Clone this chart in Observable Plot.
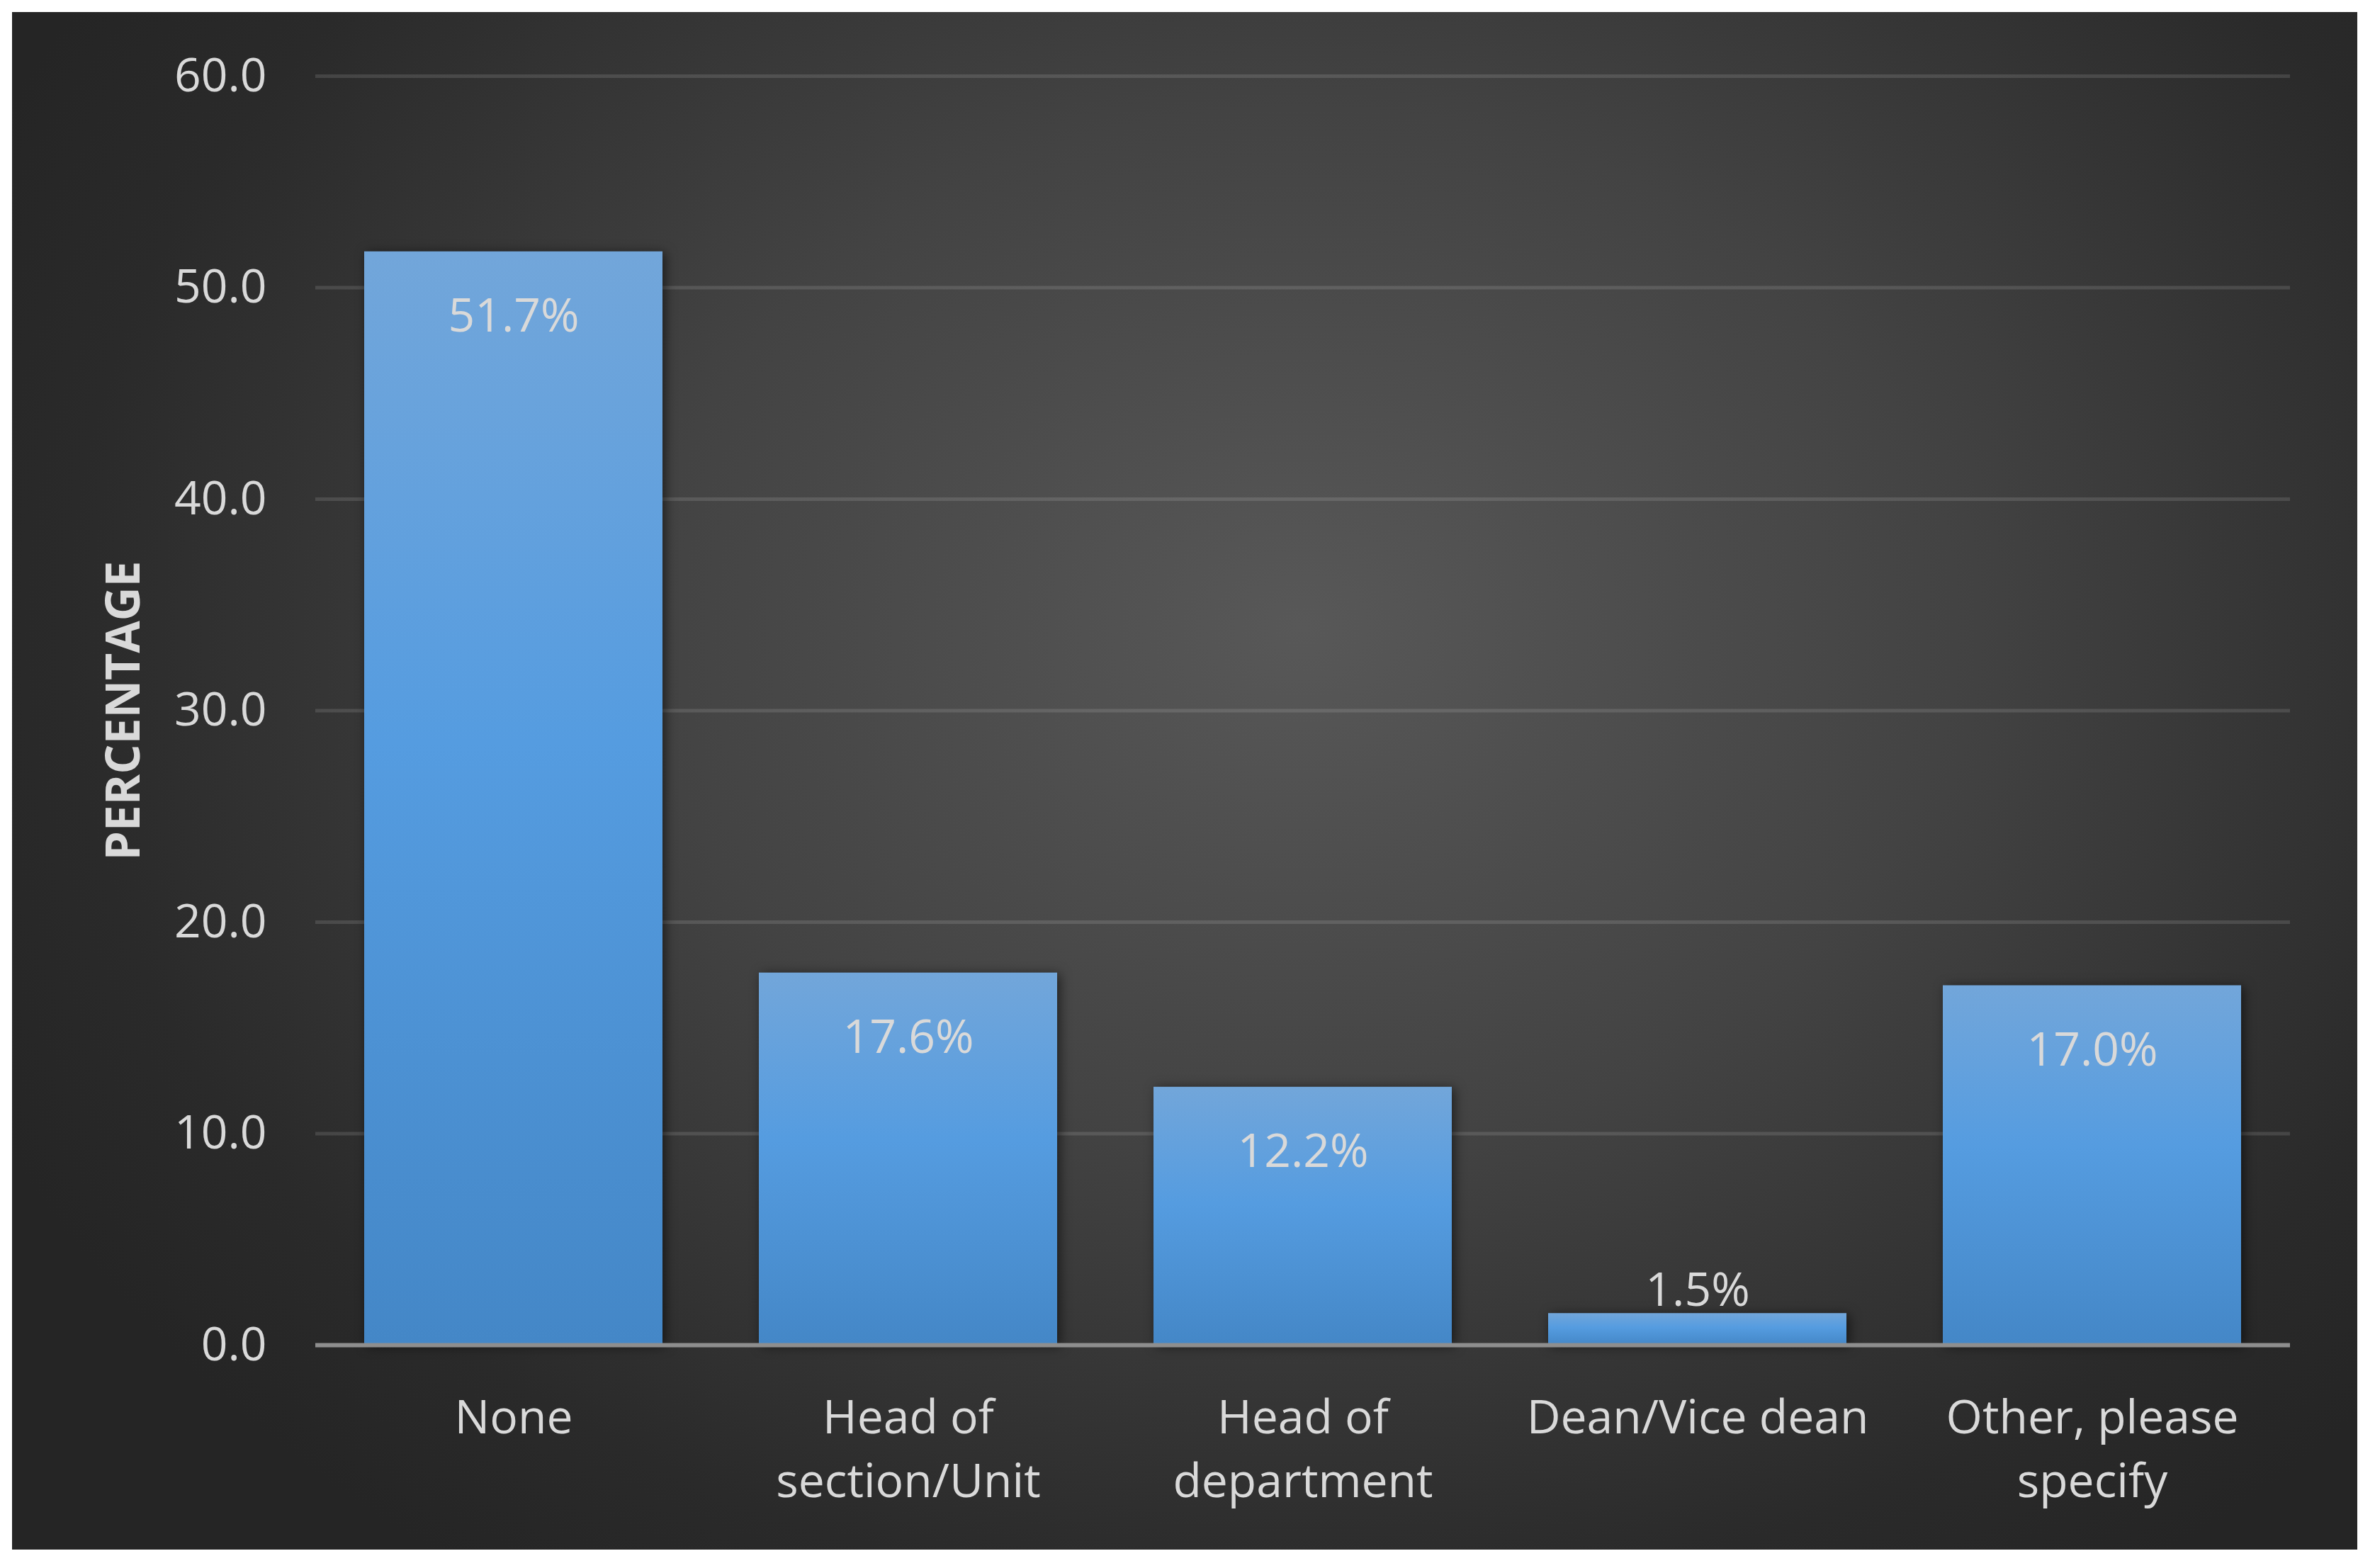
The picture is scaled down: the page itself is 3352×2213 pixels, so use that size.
<!DOCTYPE html>
<html>
<head>
<meta charset="utf-8">
<script src="https://cdn.jsdelivr.net/npm/d3@7"></script>
<script src="https://cdn.jsdelivr.net/npm/@observablehq/plot@0.6"></script>
<style>
  html, body { margin: 0; padding: 0; background: #ffffff; }
  #wrap { position: relative; width: 3352px; height: 2213px; overflow: hidden; background: #ffffff; }
  #bg { position: absolute; left: 17px; top: 17px; width: 3310px; height: 2170px;
        background: radial-gradient(ellipse 62% 75% at 55% 40%, #585858 0%, #434343 45%, #2a2a2a 85%, #252525 100%); }
  #chart { position: absolute; left: 0; top: 0; }
</style>
</head>
<body>
<div id="wrap"><div id="bg"></div><div id="chart"></div></div>
<script>
const categories = ["None", "Head of section/Unit", "Head of department", "Dean/Vice dean", "Other, please specify"];
const tickLabels = ["None", "Head of\nsection/Unit", "Head of\ndepartment", "Dean/Vice dean", "Other, please\nspecify"];
const values = [51.7, 17.6, 12.2, 1.5, 17.0];
const yTicks = [0, 10, 20, 30, 40, 50, 60];
const yTitle = "PERCENTAGE";

const data = categories.map((c, i) => ({category: c, value: values[i]}));
const labelMap = new Map(categories.map((c, i) => [c, tickLabels[i]]));
const textColor = "#d9d9d9";

const chart = Plot.plot({
  width: 3352,
  height: 2213,
  marginLeft: 445,
  marginRight: 120,
  marginTop: 107,
  marginBottom: 315,
  style: {background: "transparent", fontFamily: "'Open Sans', sans-serif", color: textColor, overflow: "visible"},
  x: {domain: categories, paddingInner: 0.245, paddingOuter: 0.12, label: null},
  y: {domain: [0, 60], label: null},
  marks: [
    Plot.gridY(yTicks.filter(d => d > 0), {stroke: "#ffffff", strokeOpacity: 0.12, strokeWidth: 5}),
    Plot.barY(data, {x: "category", y: "value", fill: "url(#barGrad)"}),
    Plot.ruleY([0], {stroke: "#8e8e8e", strokeWidth: 6}),
    Plot.text(data.filter(d => d.value >= 5), {x: "category", y: "value", text: d => d.value.toFixed(1) + "%", dy: 92, fontSize: 66, fill: textColor}),
    Plot.text(data.filter(d => d.value < 5), {x: "category", y: "value", text: d => d.value.toFixed(1) + "%", dy: -32, fontSize: 66, fill: textColor}),
    Plot.axisY({ticks: yTicks, tickFormat: d => d.toFixed(1), tickSize: 0, tickPadding: 69, fontSize: 66, label: null, fill: textColor}),
    Plot.axisX({tickSize: 0, tickPadding: 61, tickFormat: d => labelMap.get(d), fontSize: 66, lineHeight: 1.36, label: null, fill: textColor}),
    Plot.text([yTitle], {frameAnchor: "left", textAnchor: "middle", dx: -270, rotate: -90, fontWeight: "bold", fontSize: 66, fill: textColor})
  ]
});

// gradient definition for bars
const ns = "http://www.w3.org/2000/svg";
const defs = document.createElementNS(ns, "defs");
const grad = document.createElementNS(ns, "linearGradient");
grad.setAttribute("id", "barGrad");
grad.setAttribute("x1", "0"); grad.setAttribute("y1", "0");
grad.setAttribute("x2", "0"); grad.setAttribute("y2", "1");
[["0%", "#72a6da"], ["45%", "#559ce0"], ["100%", "#4487c7"]].forEach(([o, c]) => {
  const s = document.createElementNS(ns, "stop");
  s.setAttribute("offset", o); s.setAttribute("stop-color", c);
  grad.appendChild(s);
});
defs.appendChild(grad);
chart.insertBefore(defs, chart.firstChild);
chart.querySelectorAll('g[aria-label="bar"] rect').forEach(r => {
  r.style.filter = "drop-shadow(4px 2px 8px rgba(0,0,0,0.55))";
});

document.getElementById("chart").appendChild(chart);
</script>
</body>
</html>
